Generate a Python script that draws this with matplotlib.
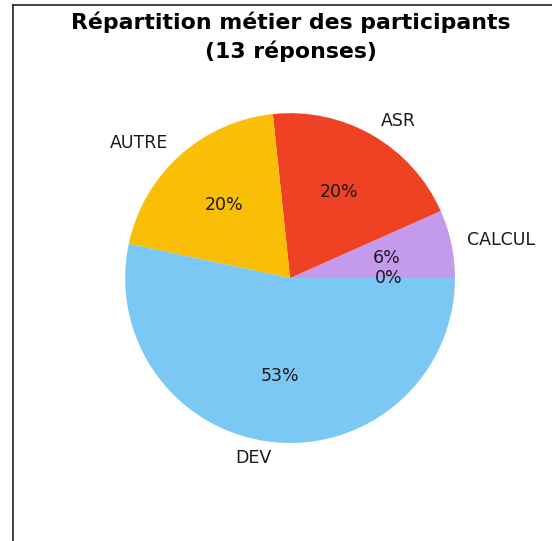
import matplotlib
matplotlib.use("Agg")
import matplotlib.pyplot as plt
from matplotlib.lines import Line2D

categories = ['CALCUL', 'ASR', 'AUTRE', 'DEV', '']
counts = [1, 3, 3, 8, 0]
colors = ['#C49BEC', '#EF4123', '#F9BF07', '#7CC8F5', '#7CC8F5']
title = "Répartition métier des participants\n(13 réponses)"

fig = plt.figure(figsize=(5.52, 5.41), dpi=100)
ax = fig.add_axes([0.152, 0.105, 0.747, 0.762])
wedges, texts, autotexts = ax.pie(
    counts, labels=categories, colors=colors, autopct='%d%%',
    startangle=0, counterclock=True,
    textprops={'fontsize': 12.5, 'color': '#1a1a1a'})
ax.set_xlim(-1.25, 1.25)
ax.set_ylim(-1.25, 1.25)
ax.set_aspect('equal')

fig.text(0.527, 0.978, title, ha='center', va='top', fontsize=15.8,
         fontweight='bold', linespacing=1.42)

# figure frame (cropped screenshot edges)
fig.add_artist(Line2D([13/552, 13/552], [0, 1 - 5/541], transform=fig.transFigure,
                      color='#222222', lw=1.2))
fig.add_artist(Line2D([13/552, 1], [1 - 5/541, 1 - 5/541], transform=fig.transFigure,
                      color='#222222', lw=1.2))

fig.savefig('out.png', dpi=100)
